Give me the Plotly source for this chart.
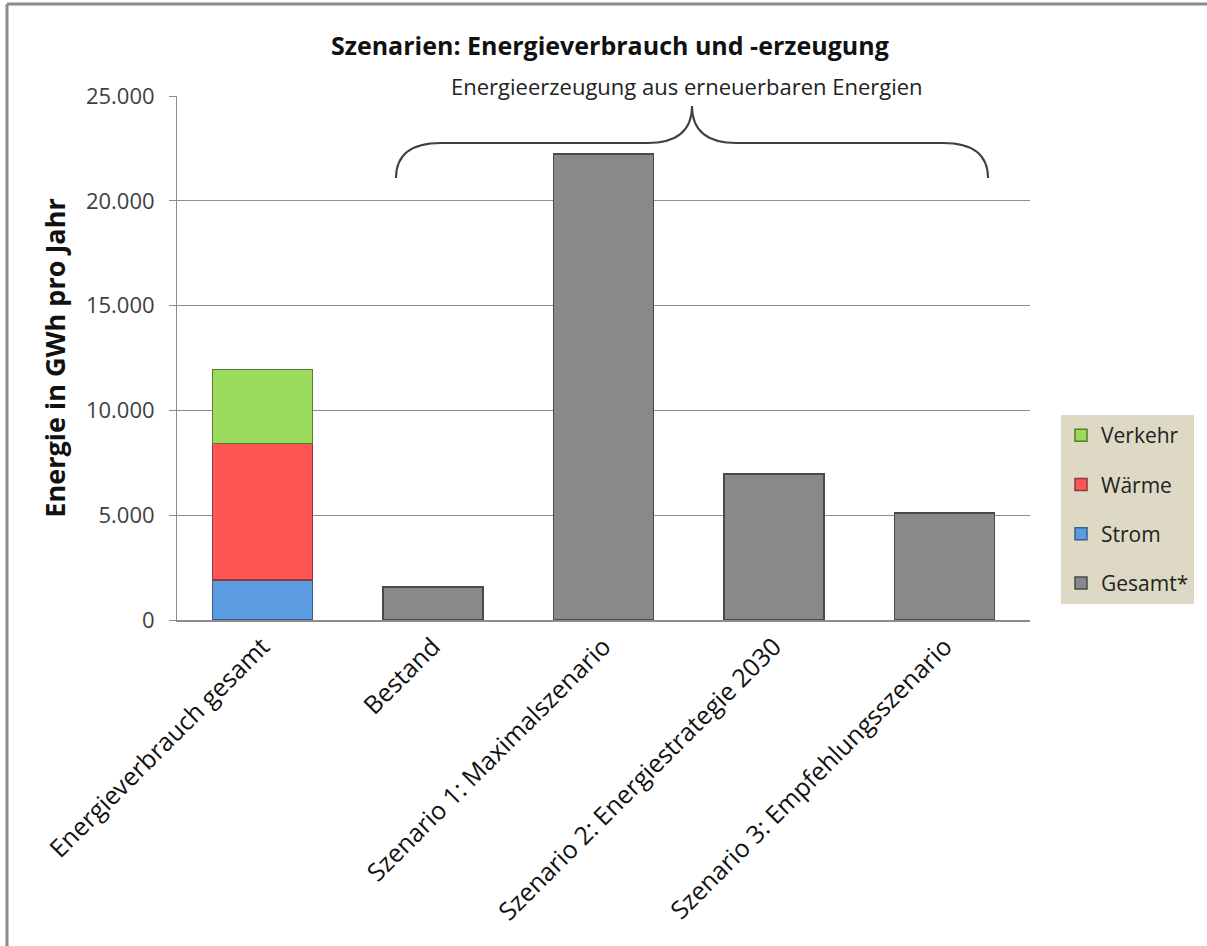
import plotly.graph_objects as go

categories = ["Energieverbrauch gesamt", "Bestand", "Szenario 1: Maximalszenario",
              "Szenario 2: Energiestrategie 2030", "Szenario 3: Empfehlungsszenario"]
strom = [1900, None, None, None, None]
waerme = [6530, None, None, None, None]
verkehr = [3520, None, None, None, None]
gesamt = [None, 1580, 22230, 6970, 5100]
y_ticks = [0, 5000, 10000, 15000, 20000, 25000]

W, H = 1207, 946
L, R, T, B = 177, 177, 96, 326
PW, PH = W - L - R, H - T - B

def px(x):
    return (x - L) / PW

def py(y):
    return (H - B - y) / PH

FONT = "Open Sans"

fig = go.Figure()
series = [
    ("Strom", strom, "#5b9be0", "#3a5f8a", 3),
    ("Wärme", waerme, "#ff5555", "#8a3a3a", 2),
    ("Verkehr", verkehr, "#9bdb5b", "#5a7a35", 1),
    ("Gesamt*", gesamt, "#898989", "#4a4a4a", 4),
]
for name, vals, col, lcol, rank in series:
    fig.add_trace(go.Bar(
        x=categories, y=vals, name=name, legendrank=rank, legendgroup=name,
        marker=dict(color=col, line=dict(color=lcol, width=1.5)),
        width=0.586,
    ))

# brace above the generation bars
lx, rx, pkx = 396, 988, 692
ey, hy, pky = 178, 143, 106
c = 45
path = (f"M {px(lx)},{py(ey)} "
        f"Q {px(lx)},{py(hy)} {px(lx + c)},{py(hy)} "
        f"L {px(pkx - c)},{py(hy)} "
        f"Q {px(pkx)},{py(hy)} {px(pkx)},{py(pky)} "
        f"Q {px(pkx)},{py(hy)} {px(pkx + c)},{py(hy)} "
        f"L {px(rx - c)},{py(hy)} "
        f"Q {px(rx)},{py(hy)} {px(rx)},{py(ey)}")
fig.add_shape(type="path", path=path, xref="paper", yref="paper",
              line=dict(color="#404040", width=2))

# outer frame (top and left edges visible)
fig.add_shape(type="line", xref="paper", yref="paper",
              x0=px(7), x1=px(1210), y0=py(4), y1=py(4),
              line=dict(color="#8c8c8c", width=3))
fig.add_shape(type="line", xref="paper", yref="paper",
              x0=px(7), x1=px(7), y0=py(4), y1=py(950),
              line=dict(color="#8c8c8c", width=3))

fig.add_annotation(text="Energieerzeugung aus erneuerbaren Energien",
                   xref="paper", yref="paper", x=px(687), y=py(86),
                   showarrow=False, font=dict(family=FONT, size=22, color="#222"),
                   xanchor="center", yanchor="middle")

fig.update_layout(
    width=W, height=H,
    margin=dict(l=L, r=R, t=T, b=B),
    paper_bgcolor="white", plot_bgcolor="white",
    barmode="stack",
    separators=",.",
    font=dict(family=FONT, size=19, color="#333"),
    title=dict(text="<b>Szenarien: Energieverbrauch und -erzeugung</b>",
               x=px(608), xanchor="center", y=1 - 46 / H, yanchor="middle",
               font=dict(family=FONT, size=25, color="#111")),
    legend=dict(x=px(1061), y=py(415), xanchor="left", yanchor="top",
                bgcolor="#ddd9c4", font=dict(family=FONT, size=21, color="#222"),
                itemwidth=30, tracegroupgap=19,
                traceorder="grouped"),
    showlegend=True,
)
fig.update_yaxes(range=[0, 25000], tickvals=y_ticks, tickformat=",d",
                 showgrid=True, gridcolor="#8c8c8c", gridwidth=1,
                 showline=True, linecolor="#8c8c8c", linewidth=1,
                 ticks="outside", ticklen=7, tickcolor="#8c8c8c",
                 ticklabelstandoff=10,
                 tickfont=dict(family=FONT, size=22, color="#404040"),
                 title=dict(text="<b>Energie in GWh pro Jahr</b>", standoff=12,
                            font=dict(family=FONT, size=27, color="#111")),
                 zeroline=False)
fig.update_xaxes(showline=True, linecolor="#8c8c8c", linewidth=2,
                 tickangle=-45, ticks="",
                 tickfont=dict(family=FONT, size=25, color="#111"))

fig.write_html("out.html")
